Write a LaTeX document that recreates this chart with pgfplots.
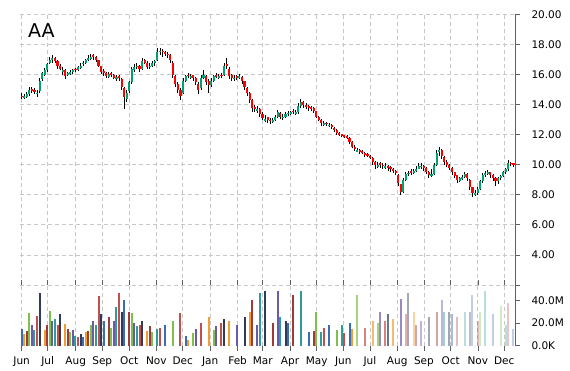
\documentclass[border=0pt]{standalone}
\usepackage{fontspec}
\setmainfont{DejaVu Sans}
\usepackage{pgfplots}
\usepackage{pgfplotstable}
\pgfplotsset{compat=1.18}
\definecolor{gridc}{HTML}{C8C8C8}
\definecolor{upc}{HTML}{00A070}
\definecolor{dnc}{HTML}{FF0000}
\definecolor{axc}{HTML}{606060}
\definecolor{vc0}{HTML}{3B6DB3}
\definecolor{vc1}{HTML}{F39C33}
\definecolor{vc2}{HTML}{9E3A3A}
\definecolor{vc3}{HTML}{7FBF4D}
\definecolor{vc4}{HTML}{6A5AA8}
\definecolor{vc5}{HTML}{2E9C9C}
\definecolor{vc6}{HTML}{C0504D}
\definecolor{vc7}{HTML}{2F3B59}

\pgfplotstableread{
d o h l c v
0 14.6 14.75 14.35 14.5 15
2 14.45 14.7 14.35 14.55 10
4 14.5 14.85 14.45 14.7 13
6 14.7 15.2 14.6 15.0 29
8 15.05 15.15 14.75 14.9 18
10 14.95 15.1 14.7 14.85 14
12 14.7 15.0 14.5 14.8 26
14 14.9 15.8 14.8 15.6 47
16 15.7 16.2 15.6 16.1 25
18 16.0 16.45 15.9 16.3 14
20 16.3 16.8 16.2 16.7 18
22 16.8 17.2 16.7 17.0 31
24 16.95 17.3 16.8 17.1 22
26 17.1 17.2 16.8 16.9 24
28 16.9 17.0 16.4 16.6 18
30 16.6 16.7 16.3 16.4 28
32 16.2 16.5 16.0 16.3 17
34 16.3 16.35 15.7 15.9 19
36 15.95 16.2 15.9 16.1 15
38 16.05 16.3 16.0 16.2 12
40 16.15 16.4 16.05 16.3 14
42 16.4 16.45 16.2 16.3 9
44 16.3 16.6 16.25 16.5 8
46 16.45 16.75 16.35 16.6 10
48 16.7 16.9 16.55 16.8 8
50 16.8 17.05 16.7 16.95 12
52 17.0 17.3 16.9 17.1 13
54 17.05 17.35 17.0 17.2 18
56 17.3 17.4 17.0 17.15 22
58 17.15 17.25 16.85 17.0 18
60 16.95 17.0 16.5 16.6 44
62 16.55 16.6 16.05 16.2 28
64 16.25 16.35 15.9 16.1 22
66 16.1 16.2 15.75 15.9 18
68 15.85 16.2 15.8 16.05 25
70 16.1 16.2 15.85 16.0 16
72 16.0 16.05 15.7 15.8 22
74 15.7 15.95 15.55 15.85 34
76 15.9 16.0 15.6 15.8 47
78 15.7 15.75 15.0 15.2 30
80 15.1 15.15 13.7 14.5 40
82 14.4 15.0 14.2 14.8 38
84 14.9 15.6 14.8 15.5 30
86 15.5 16.5 15.4 16.4 29
88 16.3 16.7 16.2 16.5 20
90 16.5 16.75 16.35 16.6 17
92 16.6 16.65 16.2 16.4 18
94 16.4 17.1 16.3 16.9 22
96 16.95 17.05 16.7 16.8 15
98 16.8 16.9 16.4 16.5 13
100 16.5 16.75 16.35 16.6 17
102 16.6 16.9 16.5 16.8 12
104 16.75 17.0 16.6 16.9 9
106 17.0 17.8 16.9 17.5 15
108 17.5 17.75 17.3 17.6 16
110 17.6 17.7 17.2 17.5 10
112 17.5 17.6 17.25 17.4 18
114 17.4 17.5 17.1 17.3 13
116 17.3 17.35 16.8 17.0 12
118 16.8 16.9 15.8 16.0 22
120 15.9 16.0 15.2 15.4 25
122 15.4 15.5 14.8 15.0 19
124 15.0 15.1 14.3 14.6 29
126 14.8 15.8 14.7 15.6 13
128 15.6 16.0 15.5 15.9 9
130 16.0 16.1 15.75 15.9 5
132 15.8 16.05 15.7 15.9 8
134 15.95 16.0 15.6 15.8 11
136 15.8 15.85 15.3 15.5 15
138 15.4 15.5 14.7 15.0 13
140 15.1 16.0 15.0 15.8 20
142 15.8 16.3 15.7 16.0 30
144 15.9 16.0 15.3 15.5 47
146 15.6 15.7 14.8 15.3 25
148 15.3 15.8 15.2 15.6 19
150 15.6 16.0 15.5 15.9 14
152 15.95 16.1 15.75 15.9 17
154 15.8 16.05 15.7 15.9 12
156 16.0 16.1 15.75 15.9 20
158 16.0 16.8 15.9 16.6 24
160 16.7 17.1 16.4 16.6 30
162 16.4 16.5 15.7 15.9 22
164 15.95 16.05 15.6 15.8 16
166 15.7 15.95 15.55 15.8 12
168 15.9 16.0 15.65 15.8 18
170 15.75 16.05 15.7 15.9 15
172 15.85 15.9 15.4 15.6 20
174 15.55 15.6 15.0 15.2 25
176 15.1 15.2 14.6 14.8 48
178 14.8 14.85 14.1 14.3 30
180 14.3 14.35 13.5 13.8 40
182 13.85 14.0 13.5 13.7 22
184 13.55 13.9 13.45 13.7 18
186 13.7 13.75 13.2 13.4 47
188 13.4 13.5 12.95 13.1 40
190 12.95 13.3 12.85 13.05 48
192 13.15 13.2 12.8 13.0 30
194 13.0 13.1 12.7 12.9 35
196 12.85 13.1 12.75 13.0 20
198 13.0 13.3 12.9 13.2 28
200 13.2 13.65 13.1 13.5 48
202 13.45 13.5 13.05 13.2 25
204 13.1 13.35 13.0 13.2 18
206 13.2 13.5 13.1 13.4 22
208 13.4 13.6 13.25 13.45 20
210 13.4 13.6 13.3 13.5 20
212 13.6 13.7 13.35 13.5 45
214 13.4 13.65 13.3 13.5 22
216 13.5 14.1 13.4 13.9 25
218 13.9 14.35 13.8 14.2 48
220 14.2 14.25 13.8 14.0 20
222 14.0 14.1 13.7 13.85 14
224 13.9 14.0 13.6 13.8 12
226 13.8 13.9 13.55 13.75 10
228 13.75 13.85 13.45 13.6 13
230 13.55 13.6 13.1 13.2 30
232 13.2 13.25 12.9 13.0 14
234 13.0 13.05 12.6 12.8 12
236 12.7 12.9 12.6 12.75 16
238 12.8 12.85 12.55 12.7 14
240 12.6 12.8 12.5 12.65 18
242 12.65 12.7 12.4 12.5 15
244 12.45 12.5 12.2 12.3 22
246 12.3 12.35 12.0 12.1 14
248 12.1 12.2 11.9 12.0 13
250 12.0 12.05 11.85 11.95 18
252 11.95 12.0 11.8 11.9 11
254 11.9 11.95 11.7 11.8 14
256 11.8 11.85 11.4 11.5 20
258 11.5 11.55 11.1 11.2 15
260 11.2 11.3 10.95 11.05 22
262 10.9 11.1 10.85 11.0 45
264 11.0 11.05 10.75 10.9 40
266 10.95 11.0 10.7 10.8 24
268 10.8 10.85 10.55 10.7 16
270 10.7 10.8 10.5 10.6 18
272 10.6 10.65 10.4 10.5 40
274 10.45 10.5 10.0 10.2 22
276 10.2 10.25 9.75 10.0 28
278 9.9 10.2 9.8 10.0 20
280 10.1 10.2 9.8 10.0 30
282 10.0 10.1 9.75 9.95 25
284 9.8 10.1 9.7 9.9 22
286 9.9 10.0 9.6 9.8 28
288 9.85 9.9 9.55 9.7 40
290 9.7 9.8 9.45 9.6 24
292 9.6 9.65 9.3 9.45 22
294 9.35 9.4 8.6 8.8 28
296 8.7 8.75 8.0 8.2 41
298 8.2 9.1 8.1 9.0 30
300 9.0 9.5 8.9 9.4 28
302 9.4 9.6 9.25 9.45 47
304 9.6 9.7 9.35 9.5 25
306 9.5 9.75 9.4 9.6 30
308 9.6 9.9 9.5 9.75 18
310 9.75 10.1 9.7 9.9 17
312 9.85 10.15 9.75 9.95 22
314 9.95 10.0 9.6 9.8 20
316 9.8 9.85 9.4 9.55 30
318 9.55 9.6 9.1 9.3 25
320 9.3 9.7 9.2 9.4 30
322 9.4 10.1 9.35 10.0 43
324 10.0 11.0 9.9 10.8 30
326 10.9 11.2 10.6 11.0 48
328 11.0 11.05 10.4 10.6 40
330 10.55 10.6 10.0 10.2 30
332 10.2 10.3 9.85 10.0 48
334 10.0 10.05 9.65 9.8 30
336 9.8 9.85 9.35 9.5 28
338 9.5 9.55 9.1 9.25 30
340 9.3 9.35 8.8 9.0 25
342 8.95 9.2 8.85 9.1 28
344 9.1 9.3 9.0 9.2 30
346 9.2 9.55 9.1 9.4 30
348 9.4 9.45 8.9 9.1 25
350 9.0 9.05 8.3 8.5 30
352 8.5 8.55 7.85 8.1 45
354 8.0 8.3 7.9 8.1 26
356 8.15 8.5 8.0 8.4 22
358 8.4 9.0 8.3 8.9 30
360 8.9 9.45 8.8 9.3 30
362 9.3 9.6 9.2 9.45 48
364 9.45 9.65 9.3 9.5 25
366 9.5 9.55 9.15 9.3 30
368 9.35 9.4 8.9 9.1 28
370 9.1 9.2 8.6 8.95 30
372 8.9 9.2 8.75 9.1 38
374 9.1 9.35 9.0 9.25 35
376 9.25 9.6 9.2 9.5 25
378 9.5 9.8 9.4 9.7 18
380 9.7 10.3 9.6 10.1 38
382 10.15 10.2 9.9 10.05 12
384 10.1 10.15 9.85 10.0 15
}\stock

\pgfplotsset{
  chartbase/.style={
    scale only axis, width=494.6pt,
    xmin=-1, xmax=385.2,
    xtick={0,20.3,42.2,62.9,84.0,105.1,125.7,147.2,168.6,188.2,209.5,230.3,251.1,271.9,293.2,314.1,334.9,356.2,376.8},
    xmajorgrids,
    grid style={gridc, dash pattern=on 4pt off 3pt, line width=0.8pt},
    axis y line*=right,
    y axis line style={draw=axc, line width=0.8pt, -},
    x axis line style={draw=none},
    tick align=outside,
    major tick length=5pt,
    every tick/.style={axc, line width=0.8pt},
    tick label style={font=\fontsize{10.5}{12}\selectfont, text=black},
    /pgf/number format/assume math mode=true,
    yticklabel style={anchor=west, xshift=8pt},
    xticklabel style={yshift=-2.5pt},
  }
}

\begin{document}
\begin{tikzpicture}
\begin{axis}[chartbase, name=price,
  at={(0pt,0pt)}, anchor=south west, height=270.5pt,
  ymin=2, ymax=20,
  ytick={4,6,...,20},
  extra y ticks={2}, extra y tick labels={},
  extra y tick style={grid=major},
  ymajorgrids,
  xticklabels={},
  major x tick style={draw=none},
  yticklabel style={/pgf/number format/.cd, fixed, fixed zerofill, precision=2},
  unbounded coords=discard,
]
% wicks
\addplot[draw=none, mark=none, forget plot,
  error bars/.cd, y dir=both, y explicit, error mark=none,
  error bar style={draw=black, line width=0.9pt, solid}]
  table[x=d, y expr={(\thisrow{h}+\thisrow{l})/2}, y error expr={(\thisrow{h}-\thisrow{l})/2}] {\stock};
% up bodies
\addplot[draw=none, mark=none, forget plot,
  error bars/.cd, y dir=both, y explicit, error mark=none,
  error bar style={draw=upc, line width=2.1pt, solid}]
  table[x=d, y expr={\thisrow{c}>=\thisrow{o} ? (\thisrow{o}+\thisrow{c})/2 : nan}, y error expr={max(abs(\thisrow{c}-\thisrow{o})/2,0.04)}] {\stock};
% down bodies
\addplot[draw=none, mark=none, forget plot,
  error bars/.cd, y dir=both, y explicit, error mark=none,
  error bar style={draw=dnc, line width=2.1pt, solid}]
  table[x=d, y expr={\thisrow{c}<\thisrow{o} ? (\thisrow{o}+\thisrow{c})/2 : nan}, y error expr={max(abs(\thisrow{c}-\thisrow{o})/2,0.04)}] {\stock};
\end{axis}
\node[anchor=base west, font=\fontsize{19}{22}\selectfont, inner sep=0pt] at (7.6pt,247pt) {AA};

\begin{axis}[chartbase, name=vol,
  at={(0pt,0pt)}, anchor=north west, height=60.7pt,
  ymin=0, ymax=53.7,
  ytick={0,20,40},
  yticklabels={0.0K,20.0M,40.0M},
  xticklabels={Jun,Jul,Aug,Sep,Oct,Nov,Dec,Jan,Feb,Mar,Apr,May,Jun,Jul,Aug,Sep,Oct,Nov,Dec},
  major x tick style={axc, line width=0.6pt},
  unbounded coords=discard,
]
\pgfplotsinvokeforeach{0,...,7}{
  \addplot[ycomb, draw=vc#1, line width=2pt, mark=none, forget plot]
    table[x=d, y expr={(mod(\thisrow{d}/2,8)==#1) && (\thisrow{d}<260) ? \thisrow{v} : nan}] {\stock};
  \addplot[ycomb, draw=vc#1, draw opacity=0.7, line width=2pt, mark=none, forget plot]
    table[x=d, y expr={(mod(\thisrow{d}/2,8)==#1) && (\thisrow{d}>=260) && (\thisrow{d}<300) ? \thisrow{v} : nan}] {\stock};
  \addplot[ycomb, draw=vc#1, draw opacity=0.45, line width=2pt, mark=none, forget plot]
    table[x=d, y expr={(mod(\thisrow{d}/2,8)==#1) && (\thisrow{d}>=300) && (\thisrow{d}<340) ? \thisrow{v} : nan}] {\stock};
  \addplot[ycomb, draw=vc#1, draw opacity=0.33, line width=2pt, mark=none, forget plot]
    table[x=d, y expr={(mod(\thisrow{d}/2,8)==#1) && (\thisrow{d}>=340) ? \thisrow{v} : nan}] {\stock};
}
\end{axis}
\pgfresetboundingbox
\useasboundingbox (-20.4pt,-85pt) rectangle (549.6pt,285pt);
\end{tikzpicture}
\end{document}
